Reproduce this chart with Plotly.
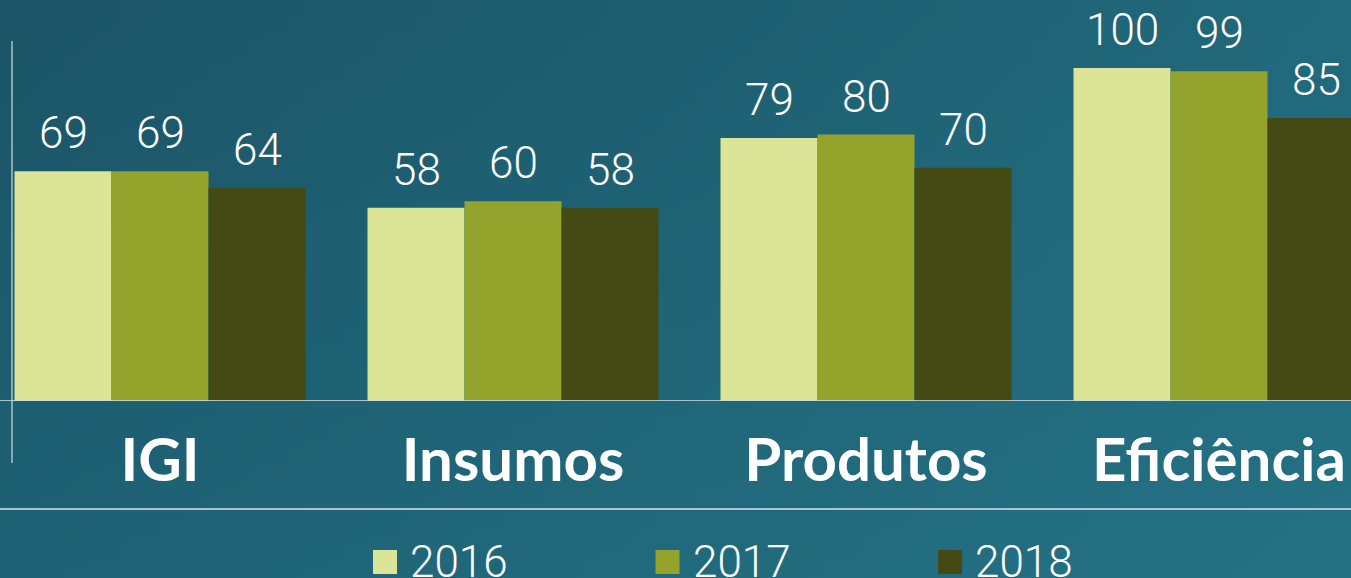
import base64
import struct
import zlib

import plotly.graph_objects as go

# ---------------- data ----------------
categories = ["IGI", "Insumos", "Produtos", "Eficiência"]
series_names = ["2016", "2017", "2018"]
values_2016 = [69, 58, 79, 100]
values_2017 = [69, 60, 80, 99]
values_2018 = [64, 58, 70, 85]
series_values = [values_2016, values_2017, values_2018]
series_colors = ["#dce497", "#93a32b", "#434a14"]

# ---------------- layout constants ----------------
W, H = 1351, 578
MARGIN_B = 177
PLOT_H = H - MARGIN_B
BARGAP = 0.1756
X_RANGE = [-0.4533, 3.3739]
Y_RANGE = [0, 120.4]

NUM_FONT = dict(family="Roboto, Lato, sans-serif", size=44, color="white", weight=300)
CAT_FONT = dict(family="Lato, 'Open Sans', sans-serif", size=60, color="white", weight=700)


def gradient_png(w, h):
    tl, tr = (27, 84, 102), (33, 105, 124)
    bl, br = (30, 98, 117), (36, 114, 132)
    raw = bytearray()
    for j in range(h):
        v = j / (h - 1)
        raw.append(0)
        for i in range(w):
            u = i / (w - 1)
            px = []
            for k in range(3):
                top = tl[k] + (tr[k] - tl[k]) * u
                bot = bl[k] + (br[k] - bl[k]) * u
                px.append(int(round(top + (bot - top) * v)))
            raw.extend(px)

    def chunk(t, d):
        c = struct.pack(">I", len(d)) + t + d
        return c + struct.pack(">I", zlib.crc32(t + d) & 0xFFFFFFFF)

    png = (b"\x89PNG\r\n\x1a\n"
           + chunk(b"IHDR", struct.pack(">IIBBBBB", w, h, 8, 2, 0, 0, 0))
           + chunk(b"IDAT", zlib.compress(bytes(raw)))
           + chunk(b"IEND", b""))
    return "data:image/png;base64," + base64.b64encode(png).decode()


def py(px):
    """pixel row -> paper y"""
    return (PLOT_H - px) / PLOT_H


def pxx(px):
    return px / W


x_idx = list(range(len(categories)))
fig = go.Figure()
for name, vals, col in zip(series_names, series_values, series_colors):
    fig.add_trace(go.Bar(x=x_idx, y=vals, name=name, marker=dict(color=col, line=dict(width=0)),
                         showlegend=False, hoverinfo="x+y"))

# value labels above bars
n = len(series_names)
w = (1 - BARGAP) / n
annotations = []
for j, vals in enumerate(series_values):
    for i, v in enumerate(vals):
        annotations.append(dict(x=i + (j - (n - 1) / 2) * w, y=v, xref="x", yref="y",
                                text=str(v), showarrow=False, yanchor="bottom",
                                yshift=10, font=NUM_FONT))

# manual legend
shapes = []
leg_start = 373
leg_step = 282.5
for k, (name, col) in enumerate(zip(series_names, series_colors)):
    x0 = leg_start + k * leg_step
    shapes.append(dict(type="rect", xref="paper", yref="paper",
                       x0=pxx(x0), x1=pxx(x0 + 24), y0=py(550), y1=py(574),
                       fillcolor=col, line=dict(width=0)))
    annotations.append(dict(x=pxx(x0 + 24 + 11), y=py(562), xref="paper", yref="paper",
                            xanchor="left", yanchor="middle", text=name,
                            showarrow=False, font=NUM_FONT))

line_col = "rgba(205,220,225,0.8)"
shapes += [
    dict(type="line", xref="paper", yref="y", x0=0, x1=1, y0=0, y1=0,
         line=dict(color=line_col, width=2), layer="above"),
    dict(type="line", xref="paper", yref="paper", x0=pxx(12), x1=pxx(12), y0=py(41), y1=py(463),
         line=dict(color=line_col, width=1.5), layer="above"),
    dict(type="line", xref="paper", yref="paper", x0=0, x1=1, y0=py(509), y1=py(509),
         line=dict(color=line_col, width=2), layer="above"),
]

fig.update_layout(
    width=W, height=H,
    margin=dict(l=0, r=0, t=0, b=MARGIN_B, pad=0),
    barmode="group", bargap=BARGAP, bargroupgap=0,
    paper_bgcolor="#20637a", plot_bgcolor="rgba(0,0,0,0)",
    showlegend=False,
    xaxis=dict(range=X_RANGE, tickvals=x_idx, ticktext=categories, tickfont=CAT_FONT,
               showgrid=False, zeroline=False, showline=False, ticks="", ticklabelstandoff=19),
    yaxis=dict(range=Y_RANGE, visible=False, showgrid=False, zeroline=False),
    annotations=annotations,
    shapes=shapes,
    images=[dict(source=gradient_png(96, 48), xref="paper", yref="paper", x=0, y=1,
                 sizex=1, sizey=1 + MARGIN_B / PLOT_H, xanchor="left", yanchor="top",
                 sizing="stretch", layer="below")],
)

fig.write_html(
    "out.html",
    config={"displayModeBar": False},
    post_script="document.body.style.margin='0';document.body.style.overflow='hidden';",
)
